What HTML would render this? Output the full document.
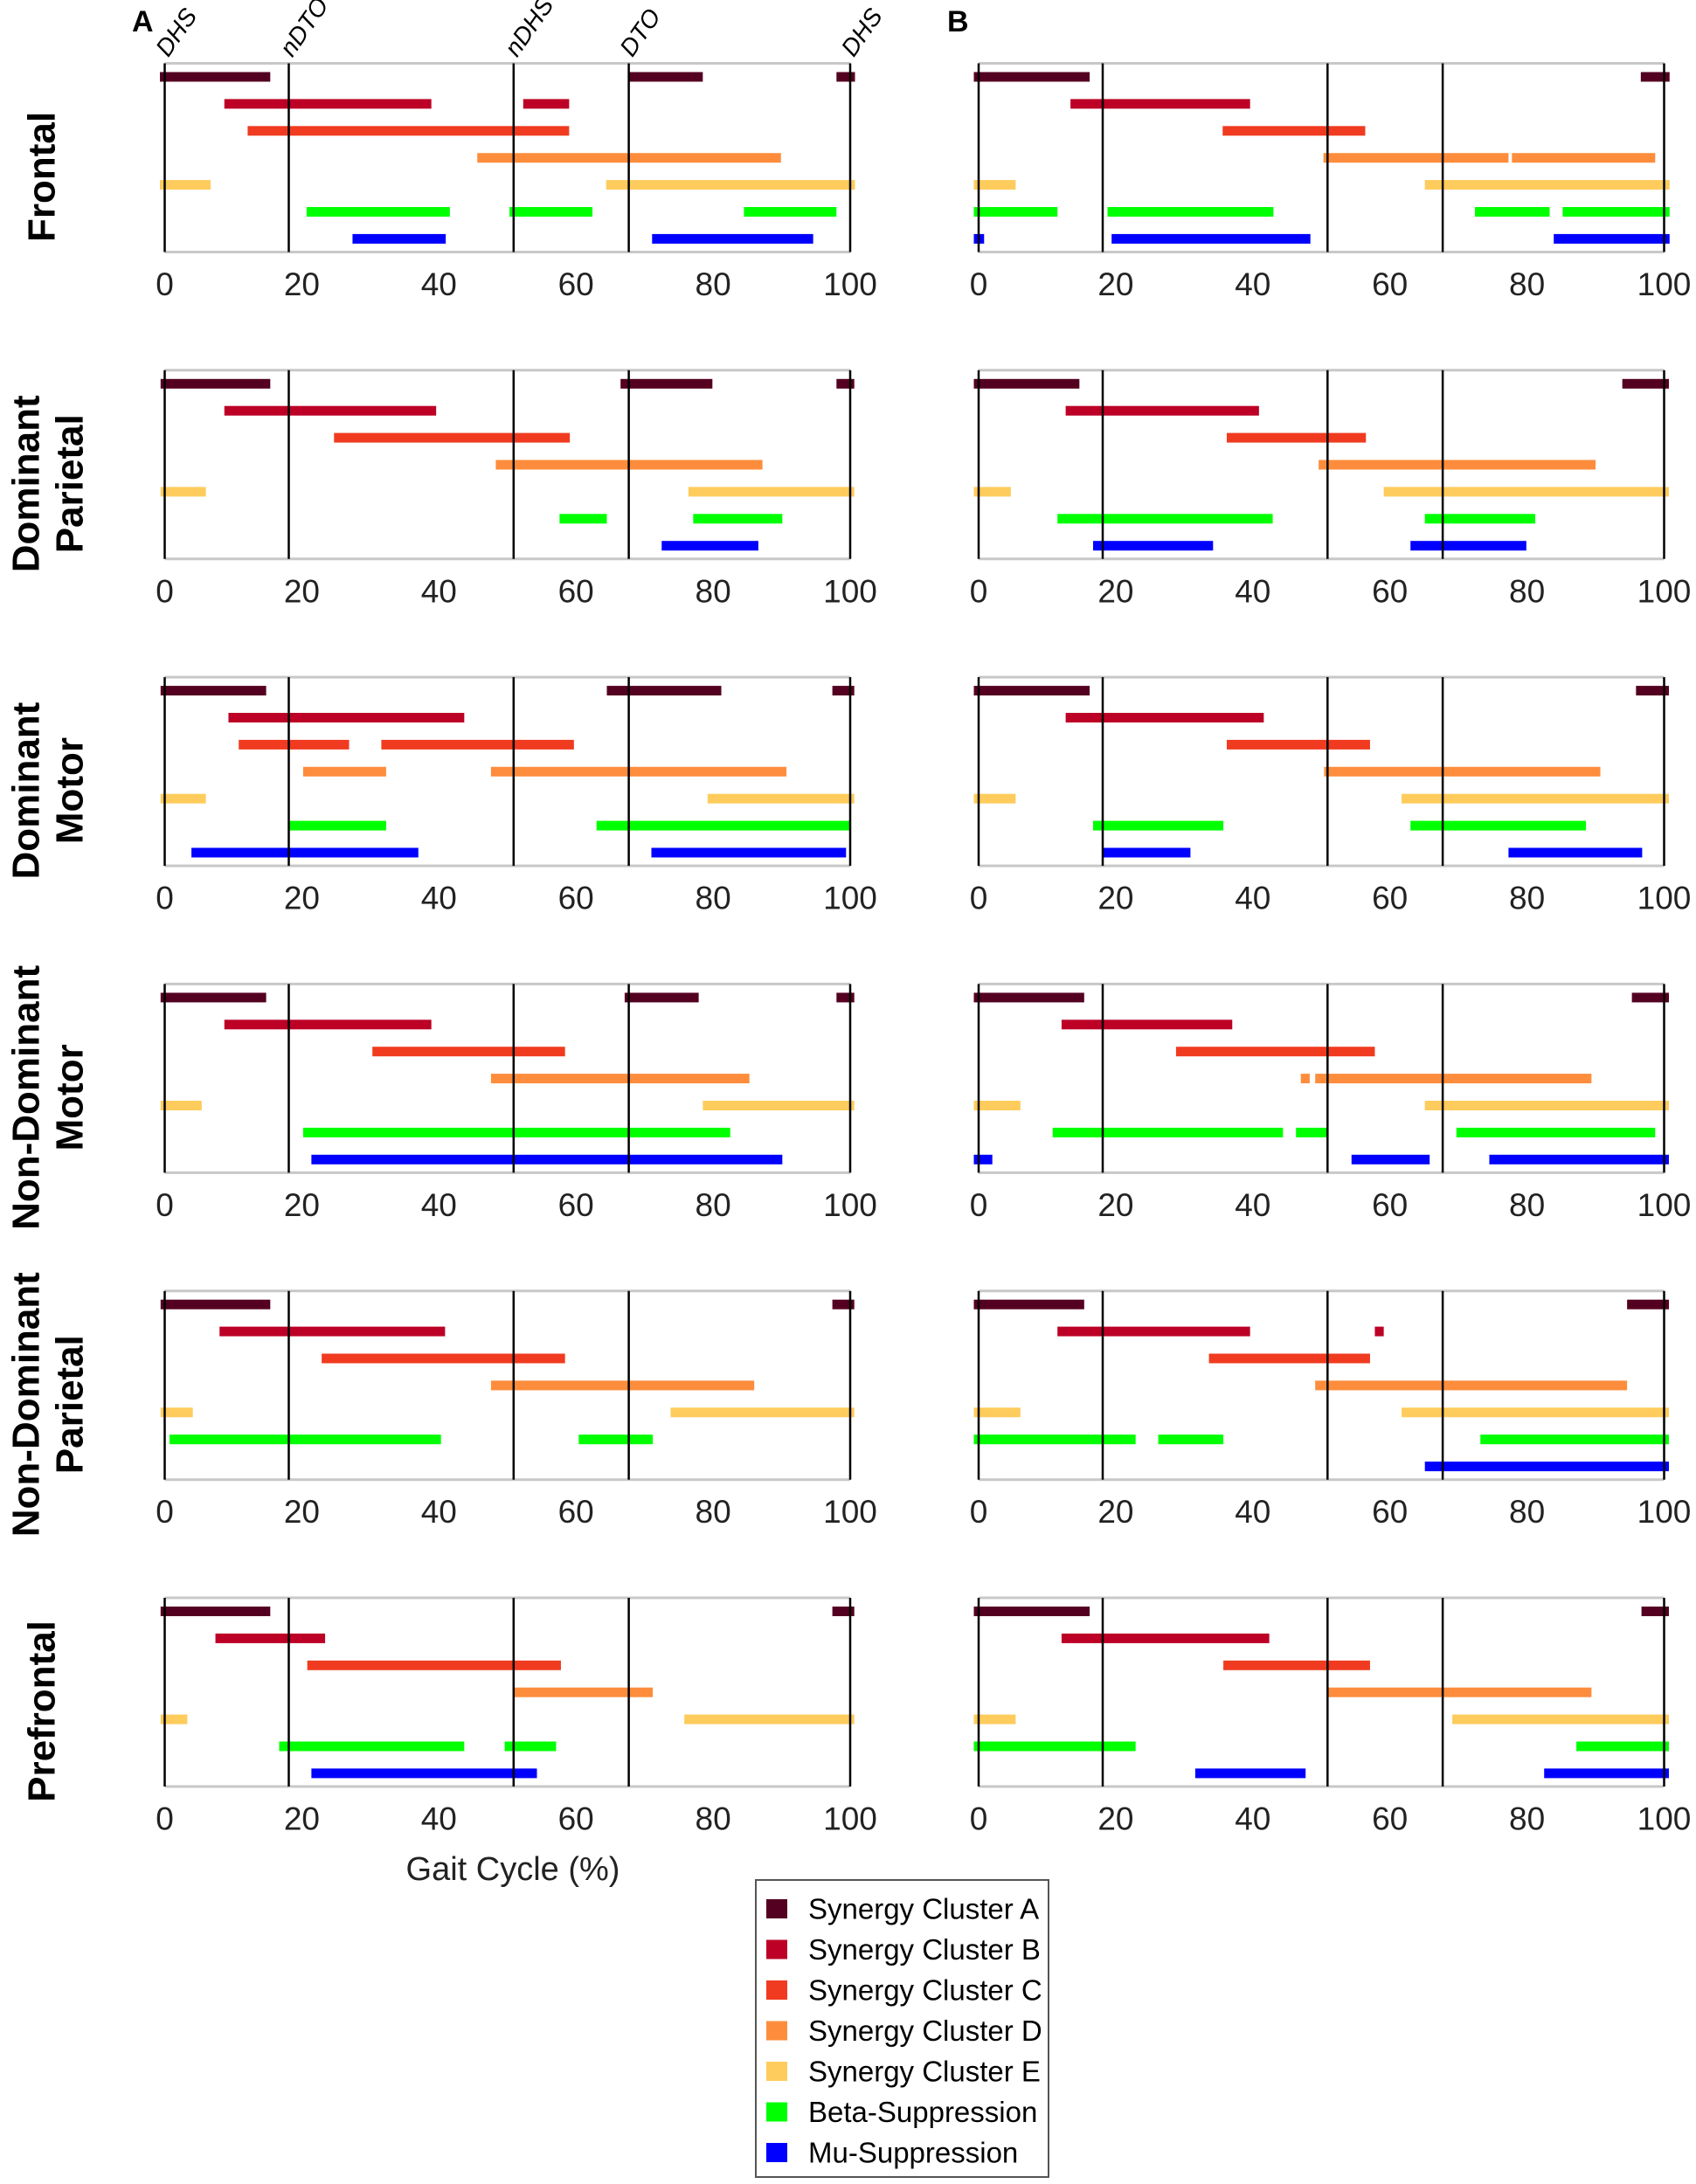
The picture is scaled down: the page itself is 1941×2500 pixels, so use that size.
<!DOCTYPE html>
<html><head><meta charset="utf-8"><style>
html,body{margin:0;padding:0;background:#fff;}
svg{display:block;font-family:"Liberation Sans",Arial,sans-serif;}
</style></head>
<body>
<svg id="chart" width="1941" height="2500" viewBox="0 0 1941 2500" xmlns="http://www.w3.org/2000/svg">
<text x="151" y="36" font-size="34" font-weight="bold">A</text>
<text x="1084" y="36" font-size="34" font-weight="bold">B</text>
<text x="587" y="2152" font-size="38" text-anchor="middle" fill="#222">Gait Cycle (%)</text>
<g id="rows"></g>
<g id="legend"></g>
</svg>
<script>
const seriesNames = ["Synergy Cluster A","Synergy Cluster B","Synergy Cluster C","Synergy Cluster D","Synergy Cluster E","Beta-Suppression","Mu-Suppression"];
const seriesColors = ["#540020","#BC0026","#F03B20","#FD8D3C","#FECC5C","#00FF00","#0000FF"];
const regionNames = [["Frontal"],["Dominant","Parietal"],["Dominant","Motor"],["Non-Dominant","Motor"],["Non-Dominant","Parietal"],["Prefrontal"]];
const eventNames = ["DHS","nDTO","nDHS","DTO","DHS"];
const eventValues = [0,18.1,50.9,67.7,100];
const tickValues = [0,20,40,60,80,100];

const frontalA = [[[-0.7,15.4],[67.7,78.5],[98,100.7]],[[8.7,38.9],[52.3,59]],[[12.1,59]],[[45.6,89.9]],[[-0.7,6.7],[64.4,100.7]],[[20.7,41.6],[50.3,62.4],[84.5,98]],[[27.4,41],[71.1,94.6]]];
const frontalB = [[[-0.7,16.2],[96.6,100.8]],[[13.4,39.6]],[[35.6,56.4]],[[50.3,77.3],[77.8,98.7]],[[-0.7,5.4],[65.1,100.8]],[[-0.7,11.5],[18.8,43],[72.4,83.3],[85.2,100.8]],[[-0.7,0.8],[19.4,48.4],[83.9,100.8]]];
const domParA = [[[-0.6,15.4],[66.5,79.9],[98,100.6]],[[8.7,39.6]],[[24.7,59.1]],[[48.3,87.2]],[[-0.6,6],[76.4,100.6]],[[57.6,64.5],[77.1,90.1]],[[72.5,86.6]]];
const domParB = [[[-0.7,14.7],[93.9,100.7]],[[12.7,40.9]],[[36.2,56.5]],[[49.6,90]],[[-0.7,4.7],[59.1,100.7]],[[11.5,42.9],[65.1,81.2]],[[16.7,34.2],[63,79.9]]];
const domMotA = [[[-0.6,14.8],[64.5,81.2],[97.4,100.6]],[[9.3,43.7]],[[10.8,26.9],[31.6,59.7]],[[20.2,32.3],[47.6,90.7]],[[-0.6,6],[79.2,100.6]],[[18,32.3],[63,100]],[[3.9,37],[71,99.4]]];
const domMotB = [[[-0.7,16.2],[95.9,100.7]],[[12.7,41.6]],[[36.2,57.1]],[[50.4,90.7]],[[-0.7,5.4],[61.7,100.7]],[[16.7,35.7],[63,88.6]],[[18.2,30.9],[77.3,96.8]]];
const ndMotA = [[[-0.6,14.8],[67.1,77.9],[98,100.6]],[[8.7,38.9]],[[30.3,58.4]],[[47.6,85.3]],[[-0.6,5.4],[78.5,100.6]],[[20.2,82.5]],[[21.4,90.1]]];
const ndMotB = [[[-0.7,15.4],[95.3,100.7]],[[12.1,37]],[[28.8,57.8]],[[47,48.3],[49.1,89.4]],[[-0.7,6.1],[65.1,100.7]],[[10.8,44.4],[46.3,50.9],[69.7,98.7]],[[-0.7,2],[54.4,65.8],[74.5,100.7]]];
const ndParA = [[[-0.6,15.4],[97.4,100.6]],[[8,40.9]],[[22.9,58.4]],[[47.6,86]],[[-0.6,4.1],[73.8,100.6]],[[0.7,40.3],[60.4,71.2]],[]];
const ndParB = [[[-0.7,15.4],[94.6,100.7]],[[11.5,39.6],[57.8,59.1]],[[33.6,57.1]],[[49.1,94.6]],[[-0.7,6.1],[61.7,100.7]],[[-0.7,22.9],[26.2,35.7],[73.2,100.7]],[[65.1,100.7]]];
const prefA = [[[-0.6,15.4],[97.4,100.6]],[[7.4,23.4]],[[20.8,57.8]],[[50.9,71.2]],[[-0.6,3.3],[75.8,100.6]],[[16.7,43.7],[49.6,57.1]],[[21.4,54.3]]];
const prefB = [[[-0.7,16.2],[96.7,100.7]],[[12.1,42.4]],[[35.7,57.1]],[[50.9,89.4]],[[-0.7,5.4],[69.1,100.7]],[[-0.7,22.9],[87.2,100.7]],[[31.6,47.7],[82.5,100.7]]];

const panelData = [[frontalA,frontalB],[domParA,domParB],[domMotA,domMotB],[ndMotA,ndMotB],[ndParA,ndParB],[prefA,prefB]];

const NS = "http://www.w3.org/2000/svg";
const panelX0 = [188.5, 1120];
const panelW = 784.5;
const rowTop0 = 72.5, rowStep = 351.3, boxH = 216;
function xScale(p, v){ return panelX0[p] + v/100*panelW; }
function yScale(r, s){ return rowTop0 + r*rowStep + 15.5 + s*30.9; }
function mk(tag, attrs, parent){ const e=document.createElementNS(NS,tag); for(const k in attrs) e.setAttribute(k,attrs[k]); parent.appendChild(e); return e; }

const rowsG = document.getElementById('rows');
regionNames.forEach((lines, r) => {
  const top = rowTop0 + r*rowStep;
  const g = mk('g', {}, rowsG);
  
  
  const cy = top + boxH/2 + 22;
  lines.forEach((ln, i) => {
    const lx = lines.length === 1 ? 48 : (i === 0 ? 30 : 80);
    const t = mk('text', {x:lx, y:cy, 'font-size':44, 'font-weight':'bold', 'text-anchor':'middle', 'dominant-baseline':'central', transform:`rotate(-90 ${lx} ${cy})`}, g);
    
    
    t.textContent = ln;
  });
  [0,1].forEach(p => {
    const pg = mk('g', {}, g);
    
    
    const x0 = xScale(p,0), x1 = xScale(p,100);
    const f1 = mk('line', {x1:x0, x2:x1, y1:top, y2:top, stroke:'#c8c8c8', 'stroke-width':3}, pg);
    
    
    const f2 = mk('line', {x1:x0, x2:x1, y1:top+boxH, y2:top+boxH, stroke:'#c8c8c8', 'stroke-width':3}, pg);
    
    
    panelData[r][p].forEach((segs, s) => {
      segs.forEach(seg => {
        const bx = xScale(p, seg[0]), bw = xScale(p, seg[1]) - bx;
        const b = mk('rect', {x:bx, y:yScale(r,s)-5.5, width:bw, height:11, fill:seriesColors[s]}, pg);
        
        
      });
    });
    eventValues.forEach((v, i) => {
      const ex = xScale(p, v);
      const l = mk('line', {x1:ex, x2:ex, y1:top, y2:top+boxH, stroke:'#000', 'stroke-width':2.5}, pg);
      
      
      if (r === 0 && p === 0) {
        const tx = ex + 4, ty = top - 6;
        const et = mk('text', {x:tx, y:ty, 'font-size':28, 'font-style':'italic', transform:`rotate(-55 ${tx} ${ty})`}, document.getElementById('chart'));
        
        
        et.textContent = eventNames[i];
      }
    });
    tickValues.forEach(v => {
      const tx = xScale(p, v);
      const t = mk('text', {x:tx, y:top+253, 'font-size':37, 'text-anchor':'middle', 'dominant-baseline':'central', fill:'#222'}, pg);
      
      
      t.textContent = v;
    });
  });
});

const lg = document.getElementById('legend');
const lb = mk('rect', {x:865, y:2152, width:335, height:340, fill:'#fff', stroke:'#555', 'stroke-width':2}, lg);


seriesNames.forEach((n, i) => {
  const y = 2185 + i*46.5;
  const sw = mk('rect', {x:877, y:y-11, width:24, height:22, fill:seriesColors[i]}, lg);
  
  
  const t = mk('text', {x:925, y:y, 'font-size':33, 'dominant-baseline':'central'}, lg);
  
  
  t.textContent = n;
});
</script>
</body></html>
